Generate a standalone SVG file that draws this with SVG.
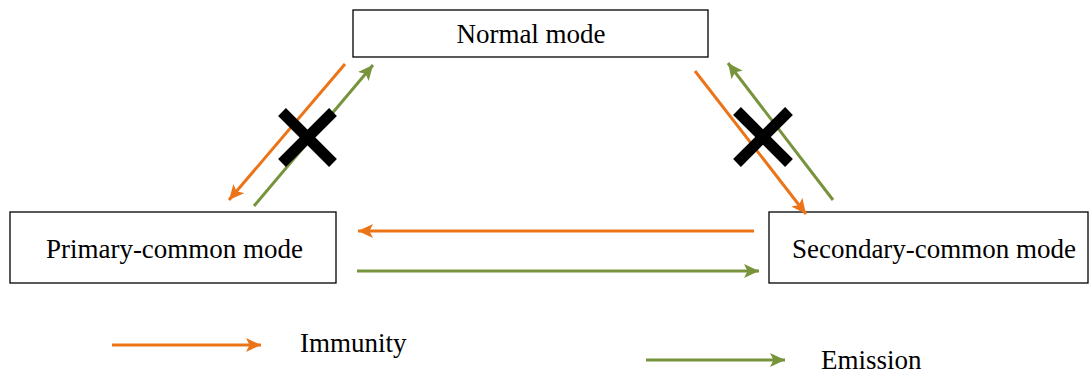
<svg xmlns="http://www.w3.org/2000/svg" width="1092" height="374" viewBox="0 0 1092 374">
<style>
.box{fill:#fff;stroke:#000;stroke-width:1.3}
.t{font-family:"Liberation Serif","Times New Roman",serif;font-size:27px;fill:#000}
.o{stroke:#EC7418;stroke-width:3;fill:none}
.g{stroke:#77933C;stroke-width:3;fill:none}
.x{stroke:#000;stroke-width:11;stroke-linecap:butt}
</style>
<defs>
<marker id="ao" markerUnits="userSpaceOnUse" markerWidth="16" markerHeight="16" refX="15" refY="8" orient="auto">
<path d="M0,1 L15,8 L0,15 L3.5,8 Z" fill="#EC7418"/>
</marker>
<marker id="ag" markerUnits="userSpaceOnUse" markerWidth="16" markerHeight="16" refX="15" refY="8" orient="auto">
<path d="M0,1 L15,8 L0,15 L3.5,8 Z" fill="#77933C"/>
</marker>
</defs>
<g id="normal"><rect class="box" x="353" y="10" width="355" height="47"/><text class="t" x="531" y="43" text-anchor="middle">Normal mode</text></g>
<g id="primary"><rect class="box" x="10" y="212" width="326" height="71"/><text class="t" x="174.5" y="258" text-anchor="middle">Primary-common mode</text></g>
<g id="secondary"><rect class="box" x="769" y="212" width="319" height="71"/><text class="t" x="934" y="258" text-anchor="middle">Secondary-common mode</text></g>
<g id="connectors">
<line class="o" x1="345" y1="64" x2="229" y2="200" marker-end="url(#ao)"/>
<line class="g" x1="254" y1="206" x2="373" y2="65" marker-end="url(#ag)"/>
<line class="o" x1="695" y1="71" x2="806" y2="214" marker-end="url(#ao)"/>
<line class="g" x1="833" y1="200" x2="728" y2="63" marker-end="url(#ag)"/>
<line class="o" x1="754" y1="231" x2="358" y2="231" marker-end="url(#ao)"/>
<line class="g" x1="357" y1="271" x2="759" y2="271" marker-end="url(#ag)"/>
</g>
<g id="cross-left"><line class="x" x1="282" y1="112" x2="333" y2="163"/><line class="x" x1="333" y1="112" x2="282" y2="163"/></g>
<g id="cross-right"><line class="x" x1="737" y1="111" x2="789" y2="163"/><line class="x" x1="789" y1="111" x2="737" y2="163"/></g>
<g id="legend">
<line class="o" x1="112" y1="345" x2="261" y2="345" marker-end="url(#ao)"/>
<text class="t" x="300" y="352">Immunity</text>
<line class="g" x1="646" y1="360" x2="785" y2="360" marker-end="url(#ag)"/>
<text class="t" x="821" y="369">Emission</text>
</g>
</svg>
